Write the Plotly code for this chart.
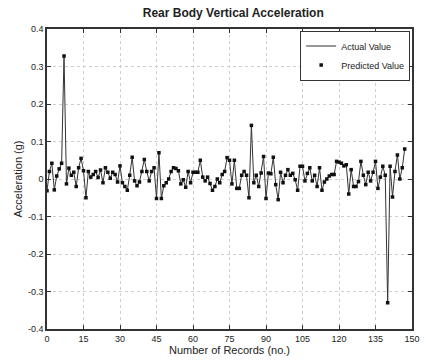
import plotly.graph_objects as go

records = list(range(148))
actual = [
    -0.031, 0.020, 0.042, -0.029, 0.008, 0.027, 0.042, 0.328, -0.013, 0.029,
    0.010, 0.018, -0.020, 0.030, 0.055, 0.022, -0.050, 0.020, 0.005, 0.012,
    0.020, 0.004, 0.024, -0.010, 0.030, 0.018, 0.002, 0.018, 0.012, -0.008,
    0.035, -0.010, -0.020, -0.030, 0.010, 0.058, -0.005, -0.018, -0.008, 0.020,
    0.052, 0.020, -0.005, 0.020, 0.030, -0.052, 0.070, -0.052, -0.018, -0.010,
    0.000, 0.020, 0.030, 0.028, 0.022, -0.013, -0.002, -0.022, 0.020, -0.010,
    0.018, 0.018, 0.018, 0.050, 0.005, -0.005, 0.005, -0.012, -0.030, -0.020,
    0.000, -0.010, 0.012, 0.020, 0.057, 0.050, -0.013, 0.050, -0.025, -0.025,
    0.010, 0.020, 0.010, -0.050, 0.143, -0.010, 0.010, -0.020, 0.016, 0.060,
    -0.052, 0.016, 0.014, 0.058, -0.015, -0.055, 0.018, -0.010, 0.010, 0.025,
    0.010, 0.015, -0.002, -0.030, 0.034, 0.034, -0.005, 0.015, 0.030, -0.005,
    0.010, -0.020, 0.030, -0.030, -0.008, 0.000, 0.008, 0.012, 0.012, 0.047,
    0.045, 0.042, 0.035, 0.038, -0.040, 0.025, -0.020, -0.020, -0.007, 0.047,
    0.010, -0.015, 0.018, -0.005, 0.018, 0.047, -0.025, 0.005, 0.034, 0.010,
    -0.330, 0.034, -0.048, 0.020, 0.064, 0.000, 0.030, 0.080,
]
predicted = list(actual)

x_ticks = [0, 15, 30, 45, 60, 75, 90, 105, 120, 135, 150]
y_ticks = [0.4, 0.3, 0.2, 0.1, 0, -0.1, -0.2, -0.3, -0.4]
y_tick_labels = ["0.4", "0.3", "0.2", "0.1", "0", "-0.1", "-0.2", "-0.3", "-0.4"]

fig = go.Figure()
fig.add_trace(go.Scatter(
    x=records, y=actual, mode="lines", name="Actual Value",
    line=dict(color="#333333", width=1),
))
fig.add_trace(go.Scatter(
    x=records, y=predicted, mode="markers", name="Predicted Value",
    marker=dict(color="#111111", size=3.5, symbol="square"),
))

axis_common = dict(
    showline=True, linecolor="#333333", linewidth=1.5, mirror="ticks",
    ticks="inside", ticklen=4, tickcolor="#333333",
    showgrid=True, gridcolor="#cfcfcf", griddash="dot", gridwidth=1,
    zeroline=False, tickfont=dict(size=9, color="#222222"),
)

fig.update_layout(
    width=428, height=360,
    margin=dict(l=47, r=8, t=29, b=23),
    paper_bgcolor="white", plot_bgcolor="white",
    font=dict(family="Liberation Sans, Arial, sans-serif", color="#222222"),
    title=dict(text="<b>Rear Body Vertical Acceleration</b>", x=0.545, xanchor="center",
               y=0.975, yanchor="top", font=dict(size=12, color="#222222")),
    xaxis=dict(range=[0, 150], tickvals=x_ticks, title=dict(text="Number of Records (no.)",
               font=dict(size=11), standoff=1), **axis_common),
    yaxis=dict(range=[-0.4, 0.4], tickvals=y_ticks, ticktext=y_tick_labels,
               title=dict(text="Acceleration (g)", font=dict(size=11), standoff=3), **axis_common),
    legend=dict(x=0.995, y=0.995, xanchor="right", yanchor="top",
                bgcolor="white", bordercolor="#333333", borderwidth=1,
                font=dict(size=9), tracegroupgap=0, itemwidth=30),
    showlegend=True,
)

fig.write_html("out.html")
